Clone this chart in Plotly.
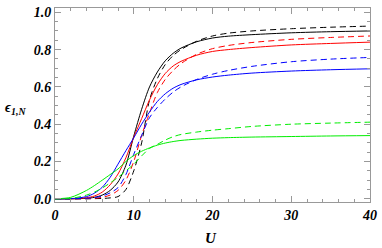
import plotly.graph_objects as go

U = [0, 2, 4, 5, 6, 7, 8, 9, 10, 11, 12, 13, 14, 15, 16, 18, 20, 22, 25, 30, 35, 40]

black_solid  = [0, 0.000, 0.003, 0.008, 0.020, 0.045, 0.090, 0.180, 0.336, 0.480, 0.600, 0.680, 0.740, 0.780, 0.808, 0.842, 0.862, 0.872, 0.880, 0.890, 0.896, 0.900]
black_dashed = [0, 0.000, 0.000, 0.001, 0.002, 0.005, 0.012, 0.050, 0.150, 0.300, 0.530, 0.645, 0.720, 0.768, 0.800, 0.845, 0.873, 0.888, 0.900, 0.912, 0.920, 0.926]
red_solid    = [0, 0.000, 0.006, 0.015, 0.036, 0.075, 0.133, 0.220, 0.330, 0.430, 0.530, 0.612, 0.672, 0.712, 0.737, 0.770, 0.790, 0.800, 0.811, 0.825, 0.833, 0.840]
red_dashed   = [0, 0.000, 0.001, 0.003, 0.008, 0.020, 0.045, 0.100, 0.200, 0.340, 0.460, 0.570, 0.640, 0.688, 0.725, 0.775, 0.805, 0.822, 0.838, 0.855, 0.865, 0.873]
blue_solid   = [0, 0.001, 0.012, 0.030, 0.062, 0.115, 0.186, 0.258, 0.327, 0.400, 0.465, 0.522, 0.563, 0.593, 0.613, 0.638, 0.653, 0.663, 0.674, 0.685, 0.692, 0.697]
blue_dashed  = [0, 0.000, 0.003, 0.007, 0.015, 0.032, 0.060, 0.130, 0.239, 0.340, 0.435, 0.490, 0.535, 0.572, 0.600, 0.640, 0.668, 0.688, 0.710, 0.735, 0.749, 0.758]
green_solid  = [0, 0.008, 0.045, 0.071, 0.100, 0.130, 0.160, 0.200, 0.232, 0.255, 0.273, 0.288, 0.299, 0.307, 0.313, 0.320, 0.325, 0.328, 0.331, 0.334, 0.337, 0.339]
green_dashed = [0, 0.002, 0.020, 0.036, 0.058, 0.085, 0.115, 0.150, 0.186, 0.230, 0.270, 0.292, 0.315, 0.333, 0.345, 0.358, 0.368, 0.376, 0.388, 0.400, 0.406, 0.411]

series = [
    ("black", "solid", black_solid), ("black", "dash", black_dashed),
    ("#ff0000", "solid", red_solid), ("#ff0000", "dash", red_dashed),
    ("#0000ff", "solid", blue_solid), ("#0000ff", "dash", blue_dashed),
    ("#00ee00", "solid", green_solid), ("#00ee00", "dash", green_dashed),
]

x_ticks = [0, 10, 20, 30, 40]
y_ticks = [0.0, 0.2, 0.4, 0.6, 0.8, 1.0]
y_tick_labels = ["0.0", "0.2", "0.4", "0.6", "0.8", "1.0"]

fig = go.Figure()
for color, dash, ys in series:
    fig.add_trace(go.Scatter(
        x=U, y=ys, mode="lines",
        line=dict(color=color, width=1, dash=("6px,4px" if dash == "dash" else "solid"),
                  shape="spline", smoothing=0.8),
        showlegend=False, hoverinfo="skip"))

tickfont = dict(family="Liberation Serif", size=14, color="black", weight="bold", style="italic")
axis_common = dict(showgrid=False, zeroline=False, showline=True, linecolor="#999999",
                   linewidth=1, mirror="ticks", ticks="inside", ticklen=6, tickcolor="#999999",
                   tickwidth=1, tickfont=tickfont)

fig.update_layout(
    width=382, height=248,
    margin=dict(l=55, r=8, t=5, b=46),
    paper_bgcolor="white", plot_bgcolor="white",
    xaxis=dict(range=[0, 40], tickvals=x_ticks, ticktext=[str(v) for v in x_ticks],
               minor=dict(ticks="inside", ticklen=3, dtick=2, tickcolor="#999999", showgrid=False),
               ticklabeloverflow="allow", **axis_common),
    yaxis=dict(range=[-0.017, 1.023], tickvals=y_ticks, ticktext=y_tick_labels,
               minor=dict(ticks="inside", ticklen=3, dtick=0.05, tick0=0, tickcolor="#999999", showgrid=False),
               **axis_common),
    annotations=[
        dict(text="<b><i>U</i></b>", xref="paper", yref="paper", x=0.495, y=-0.183,
             showarrow=False, font=dict(family="Liberation Serif", size=15, color="black"),
             xanchor="center", yanchor="middle"),
        dict(text="<b><i>ϵ<sub>1,N</sub></i></b>", xref="paper", yref="paper", x=-0.125, y=0.482,
             showarrow=False, font=dict(family="Liberation Serif", size=14, color="black"),
             xanchor="center", yanchor="middle"),
    ],
)

fig.write_html("out.html", config={"displayModeBar": False, "staticPlot": True})

with open("out.html", "r", encoding="utf-8") as f:
    html = f.read()
html = html.replace("<head>", "<head><style>html,body{margin:0;padding:0;overflow:hidden;}</style>", 1)
with open("out.html", "w", encoding="utf-8") as f:
    f.write(html)
